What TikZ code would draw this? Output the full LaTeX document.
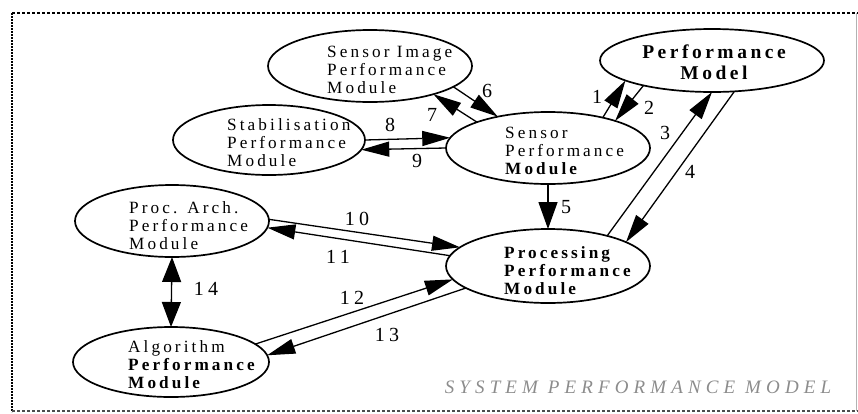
\documentclass[tikz,border=0pt]{standalone}
\usepackage{fontspec}
\setmainfont{Liberation Serif}
\newfontfamily\spc[LetterSpace=18]{Liberation Serif}
\newfontfamily\numf[LetterSpace=22]{Liberation Serif}
\newfontfamily\ttlf[LetterSpace=27]{Liberation Serif}
\usetikzlibrary{arrows.meta,shapes.geometric}
\begin{document}
\begin{tikzpicture}[x=1pt,y=-1pt,
  mod/.style={draw, line width=1.7pt, ellipse, inner sep=0pt, outer sep=0pt},
  lbl/.style={font=\spc\fontsize{17.2}{18}\selectfont, align=left, inner sep=0pt, anchor=west},
  num/.style={font=\numf\fontsize{20}{22}\selectfont, inner sep=0pt},
  con/.style={line width=1.3pt, -{Triangle[length=28pt,width=15pt]}},
  wide/.style={line width=1.3pt, -{Triangle[length=27pt,width=19pt]}},
  both/.style={line width=1.3pt, {Triangle[length=25pt,width=19pt]}-{Triangle[length=25pt,width=19pt]}},
]
\useasboundingbox (0,0) rectangle (858,413);
% frame
\draw[line width=1.6pt, dash pattern=on 3pt off 2pt] (12,13) -- (858,13);
\draw[line width=2pt, dash pattern=on 1.6pt off 1.4pt] (12,13) -- (12,412);
\draw[line width=1.4pt, dash pattern=on 3pt off 2pt, black!70] (12,411) -- (858,411);
\draw[line width=0.8pt, black!30] (856,13) -- (856,411);
% modules
\node[mod, minimum width=204pt, minimum height=72pt] (si) at (370,66) {};
\node[mod, minimum width=192pt, minimum height=70pt] (st) at (269,140) {};
\node[mod, minimum width=224pt, minimum height=63pt] (pm) at (712,60.5) {};
\node[mod, minimum width=204pt, minimum height=72pt] (sp) at (548,148) {};
\node[mod, minimum width=194pt, minimum height=72pt] (pa) at (172,221) {};
\node[mod, minimum width=204pt, minimum height=74pt] (pr) at (548,266) {};
\node[mod, minimum width=196pt, minimum height=70pt] (al) at (171,362) {};
% texts
\node[lbl] (sit) at (327,69.5) {Sensor Image\\Performance\\Module};
\node[lbl] (stt) at (227,142.5) {Stabilisation\\Performance\\Module};
\node[lbl] (spt) at (505,150.5) {Sensor\\Performance\\\textbf{Module}};
\node[lbl, font=\spc\bfseries\fontsize{17.2}{18}\selectfont] (prt) at (504,270.5) {Processing\\Performance\\Module};
\node[lbl] (pat) at (129,225.5) {Proc. Arch.\\Performance\\Module};
\node[lbl] (alt) at (128,364.5) {Algorithm\\\textbf{Performance}\\\textbf{Module}};
\node[font=\spc\bfseries\fontsize{19.5}{21}\selectfont, align=center, inner sep=0pt] (pmt) at (714,62) {Performance\\Model};
% connectors
\draw[con] (sp.29.9) -- (pm.193.9);
\draw[con] (pm.200.6) -- (sp.22.1);
\draw[con] (pr.27.7) -- (pm.270);
\draw[con] (pm.306.1) -- (pr.17.3);
\draw[wide] (sp.270) -- (pr.90);
\draw[con] (si.346.8) -- (sp.148.1);
\draw[con] (sp.160.3) -- (si.336.6);
\draw[con] (st.0.6) -- (sp.174.8);
\draw[con] (sp.180.6) -- (st.354.5);
\draw[con] (pa.1.8) -- (pr.168.8);
\draw[con] (pr.174.3) -- (pa.356.5);
\draw[con] (al.12.7) -- (pr.188.1);
\draw[con] (pr.195.4) -- (al.4.2);
\draw[both] (pa.270) -- (al.90);
% numbers
\node[num] (n1) at (597,97) {1};
\node[num] (n2) at (649,108) {2};
\node[num] (n3) at (665,133) {3};
\node[num] (n4) at (690,172) {4};
\node[num] (n5) at (566,207) {5};
\node[num] (n6) at (487,91) {6};
\node[num] (n7) at (432,115) {7};
\node[num] (n8) at (390,125) {8};
\node[num] (n9) at (417,161) {9};
\node[num] (n10) at (357,219) {10};
\node[num] (n11) at (338,257) {11};
\node[num] (n12) at (352,298) {12};
\node[num] (n13) at (387,335) {13};
\node[num] (n14) at (206,289) {14};
% title
\node[font=\ttlf\itshape\fontsize{19}{21}\selectfont, text=black!45, inner sep=0pt] (title) at (638,387) {SYSTEM PERFORMANCE MODEL};
\end{tikzpicture}
\end{document}
